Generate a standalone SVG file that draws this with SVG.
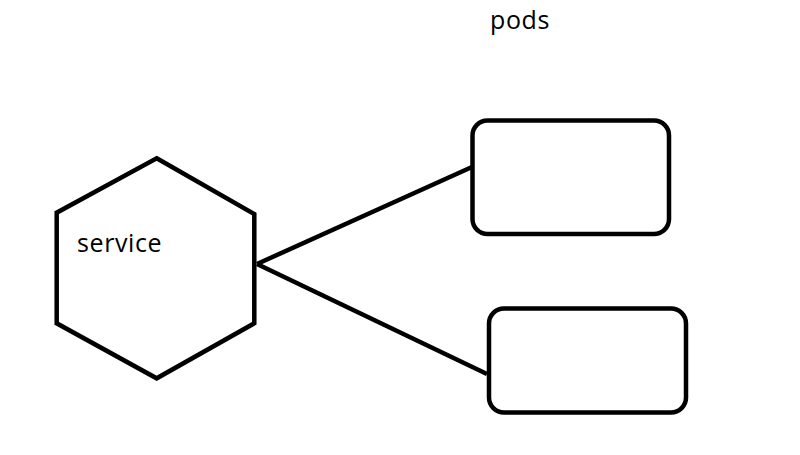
<svg xmlns="http://www.w3.org/2000/svg" width="800" height="455" viewBox="0 0 800 455">
<style>
.shape{fill:#ffffff;stroke:#000000;stroke-width:4.5;stroke-linejoin:miter}
.conn{stroke:#000000;stroke-width:4.5;fill:none}
.lbl{font-family:"Open Sans","Noto Sans",sans-serif;font-size:25px;letter-spacing:0.6px;fill:#000000}
</style>
<rect x="0" y="0" width="800" height="455" fill="#ffffff"/>
<g id="connectors">
<line class="conn" x1="257" y1="264" x2="472" y2="167"/>
<line class="conn" x1="257" y1="264" x2="487" y2="374"/>
</g>
<g id="service">
<polygon class="shape" points="156.7,158.3 254.3,214 254.3,323.3 156.7,378.3 56.7,323.3 56.7,212.7"/>
<text class="lbl" x="77" y="252">service</text>
</g>
<g id="pod1">
<rect class="shape" x="472.5" y="120.5" width="196.5" height="113.5" rx="15" ry="15"/>
</g>
<g id="pod2">
<rect class="shape" x="489" y="308.5" width="197" height="104" rx="15" ry="15"/>
</g>
<g id="pods-label">
<text class="lbl" x="490" y="29">pods</text>
</g>
</svg>
